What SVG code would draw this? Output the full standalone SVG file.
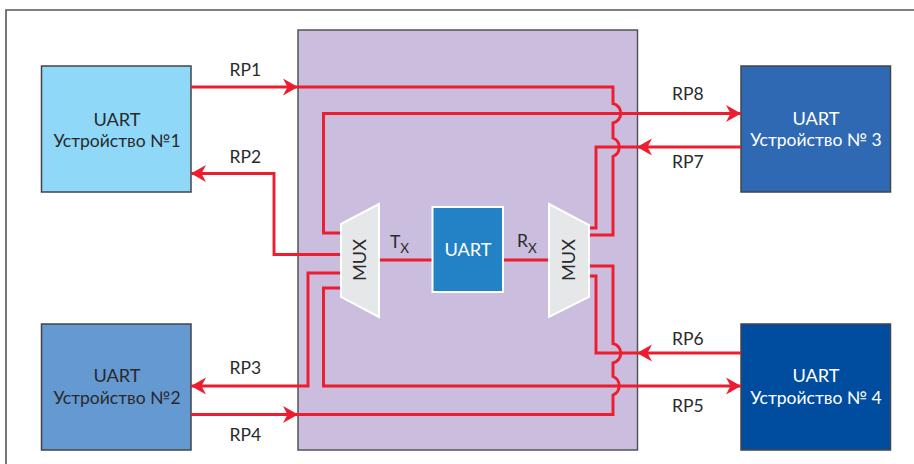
<svg xmlns="http://www.w3.org/2000/svg" width="914" height="464" viewBox="0 0 914 464">
<style>
text{font-family:"Lato","Liberation Sans",sans-serif;font-size:17.5px;fill:#2a2a2c}
.c{text-anchor:middle}
.u{font-size:18.2px}
.w{fill:#fff}
.b{stroke:#444448;stroke-width:1.5}
.wire{fill:none;stroke:#ed1c2e;stroke-width:2.9}
.ah{marker-end:url(#arrow)}
.mux{fill:#e6e7e8;stroke:#fff;stroke-width:2}
.sub{font-size:13.5px}
</style>
<defs>
<marker id="arrow" markerUnits="userSpaceOnUse" markerWidth="18" markerHeight="20" refX="16" refY="9" orient="auto">
<path d="M1 0.500L16 9L1 17.500L5.500 9Z" fill="#ed1c2e"/>
</marker>
</defs>
<rect width="914" height="464" fill="#fff"/>
<path id="frame" d="M914 10H6V464" fill="none" stroke="#555558" stroke-width="1.6"/>
<g id="soc"><rect x="298" y="30" width="339.5" height="420" fill="#cbbddd" stroke="#55525a" stroke-width="1.5"/></g>
<g id="dev1"><rect class="b" x="41.5" y="66" width="149.5" height="126" fill="#8fd8f8"/>
<text class="c u" x="117" y="125.500">UART</text><text class="c" x="117" y="146.500">Устройство №1</text></g>
<g id="dev2"><rect class="b" x="41.5" y="324" width="149.5" height="126" fill="#6499d2"/>
<text class="c u" x="117" y="382">UART</text><text class="c" x="117" y="403.500">Устройство №2</text></g>
<g id="dev3"><rect class="b" x="741" y="66" width="149.5" height="126" fill="#2f69b3"/>
<text class="c u w" x="816" y="124.500">UART</text><text class="c w" x="816" y="146">Устройство № 3</text></g>
<g id="dev4"><rect class="b" x="741" y="324" width="149.5" height="126" fill="#004da0"/>
<text class="c u w" x="816" y="382">UART</text><text class="c w" x="816" y="403.500">Устройство № 4</text></g>
<g id="connectors">
<path class="wire ah" d="M191 87H298"/>
<path class="wire" d="M298 87H613V103.500A10 10 0 0 1 613 123V138A10 10 0 0 1 613 156.500V235H589"/>
<path class="wire ah" d="M341 233H323.500V113.500H741"/>
<path class="wire ah" d="M741 147H637"/>
<path class="wire" d="M637 147H596V228H589"/>
<path class="wire ah" d="M341 254.500H274V173.500H191"/>
<path class="wire ah" d="M341 273H308V386H191"/>
<path class="wire ah" d="M341 288H323.500V386H741"/>
<path class="wire ah" d="M191 414.500H298"/>
<path class="wire" d="M298 414.500H613V395A10 10 0 0 0 613 376.500V363A10 10 0 0 0 613 343.500V266H589"/>
<path class="wire ah" d="M741 353H637"/>
<path class="wire" d="M637 353H596V276H589"/>
<path class="wire" d="M380 260H432M503 260H549"/>
</g>
<g id="mux-left"><path class="mux" d="M341 224L379 204V317L341 297Z"/>
<text class="c u" transform="translate(366 260) rotate(-90)">MUX</text></g>
<g id="mux-right"><path class="mux" d="M549 204L589 225V297L549 317Z"/>
<text class="c u" transform="translate(575 260) rotate(-90)">MUX</text></g>
<g id="uart"><rect x="432.500" y="207" width="70.500" height="85" fill="#2382c6" stroke="#fff" stroke-width="2"/>
<text class="c u w" x="468" y="255.500">UART</text></g>
<g id="labels">
<text x="229.500" y="76">RP1</text><text x="229.500" y="163">RP2</text>
<text x="229.500" y="374">RP3</text><text x="229.500" y="441">RP4</text>
<text x="672" y="100">RP8</text><text x="672" y="168">RP7</text>
<text x="672" y="345">RP6</text><text x="672" y="412">RP5</text>
<text x="390" y="248">T<tspan class="sub" dy="5">X</tspan></text>
<text x="517" y="247">R<tspan class="sub" dy="6">X</tspan></text>
</g>
</svg>
